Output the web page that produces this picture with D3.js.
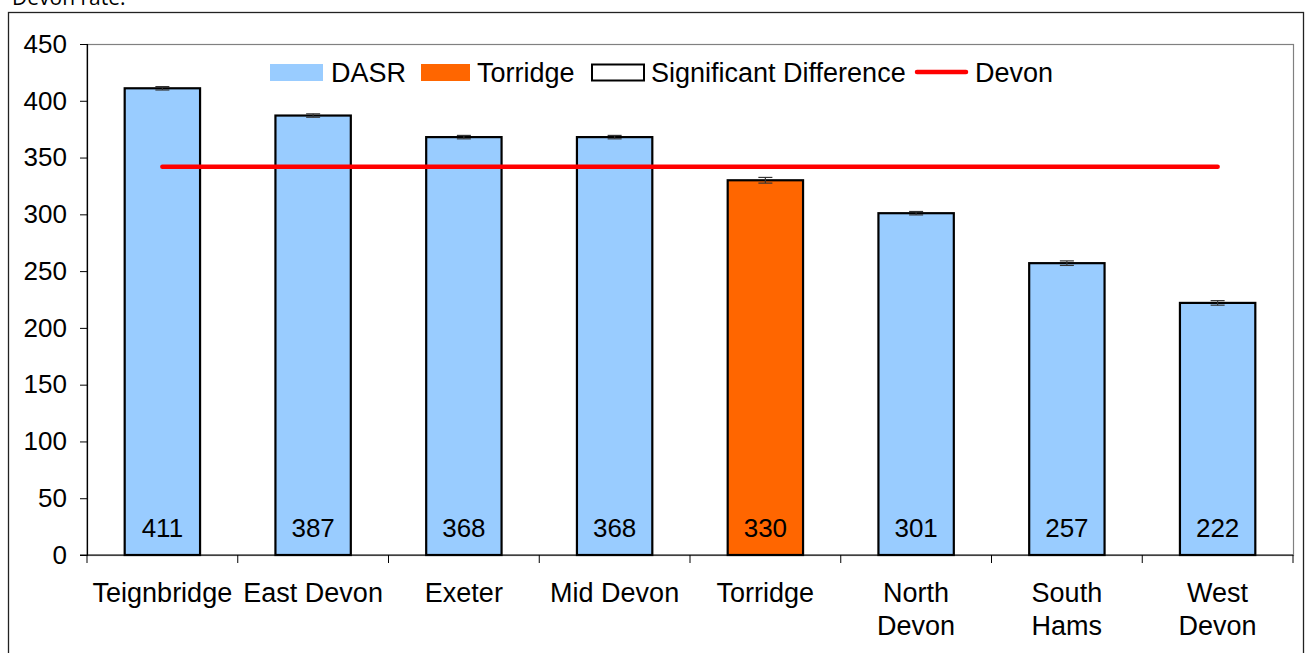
<!DOCTYPE html>
<html>
<head>
<meta charset="utf-8">
<script src="https://cdn.jsdelivr.net/npm/d3@7"></script>
<style>
  html, body { margin: 0; padding: 0; background: #fff; }
  svg { display: block; font-family: "Liberation Sans", Arial, sans-serif; }
</style>
</head>
<body>
<svg id="chart" width="1310" height="653"></svg>
<script>
// District directly age-standardised rates (DASR)
const districts = ["Teignbridge", "East Devon", "Exeter", "Mid Devon", "Torridge", "North Devon", "South Hams", "West Devon"];
const labelLines = [["Teignbridge"], ["East Devon"], ["Exeter"], ["Mid Devon"], ["Torridge"], ["North", "Devon"], ["South", "Hams"], ["West", "Devon"]];
const dasr = [411, 387, 368, 368, 330, 301, 257, 222];
const errLow = [409.5, 385.5, 366.5, 366.5, 327.5, 299.5, 255, 220];
const errHigh = [412.5, 388.5, 369.5, 369.5, 332.5, 302.5, 259, 224];
const devonRate = 342;
const highlight = "Torridge";
const yTicks = [0, 50, 100, 150, 200, 250, 300, 350, 400, 450];
const legendItems = ["DASR", "Torridge", "Significant Difference", "Devon"];

const svg = d3.select("#chart");
const plot = { left: 87, right: 1293, top: 44, bottom: 555 };

const x = d3.scaleBand().domain(districts).range([plot.left, plot.right]).paddingInner(0).paddingOuter(0);
const y = d3.scaleLinear().domain([0, 450]).range([plot.bottom, plot.top]);
const barW = x.bandwidth() * 0.5;

// Outer frame and caption
svg.append("rect").attr("x", 8.5).attr("y", 12.5).attr("width", 1295).attr("height", 700)
  .attr("fill", "none").attr("stroke", "#222").attr("stroke-width", 1.3);
svg.append("text").attr("x", 12).attr("y", 5).attr("font-family", "'Open Sans', sans-serif")
  .attr("font-size", 21).attr("fill", "#000").text("Devon rate.");

// Plot area border
svg.append("rect").attr("x", plot.left).attr("y", plot.top + 0.5)
  .attr("width", plot.right - plot.left + 0.5).attr("height", plot.bottom - plot.top)
  .attr("fill", "none").attr("stroke", "#808080").attr("stroke-width", 1.2);

// Bars
svg.append("g").selectAll("rect").data(districts).join("rect")
  .attr("x", d => x(d) + (x.bandwidth() - barW) / 2)
  .attr("y", (d, i) => y(dasr[i]))
  .attr("width", barW)
  .attr("height", (d, i) => y(0) - y(dasr[i]))
  .attr("fill", d => d === highlight ? "#ff6600" : "#99ccff")
  .attr("stroke", "#000").attr("stroke-width", 2.2);

// Confidence interval error bars
const eb = svg.append("g").attr("stroke", "#333").attr("stroke-width", 1.2);
districts.forEach((d, i) => {
  const cx = x(d) + x.bandwidth() / 2;
  eb.append("line").attr("x1", cx).attr("x2", cx).attr("y1", y(errLow[i])).attr("y2", y(errHigh[i]));
  eb.append("line").attr("x1", cx - 7).attr("x2", cx + 7).attr("y1", y(errLow[i])).attr("y2", y(errLow[i]));
  eb.append("line").attr("x1", cx - 7).attr("x2", cx + 7).attr("y1", y(errHigh[i])).attr("y2", y(errHigh[i]));
});

// Devon average line
svg.append("line")
  .attr("x1", x(districts[0]) + x.bandwidth() / 2)
  .attr("x2", x(districts[districts.length - 1]) + x.bandwidth() / 2)
  .attr("y1", y(devonRate)).attr("y2", y(devonRate))
  .attr("stroke", "#ff0000").attr("stroke-width", 4.5).attr("stroke-linecap", "round");

// Value labels near the base of each bar
svg.append("g").selectAll("text").data(districts).join("text")
  .attr("x", d => x(d) + x.bandwidth() / 2)
  .attr("y", y(0) - 18)
  .attr("text-anchor", "middle")
  .attr("font-size", 26).attr("fill", "#000")
  .text((d, i) => dasr[i]);

// Y axis
const yAxis = svg.append("g").attr("transform", `translate(${plot.left},0)`)
  .call(d3.axisLeft(y).tickValues(yTicks).tickSize(7).tickPadding(13));
yAxis.select(".domain").attr("stroke", "#000").attr("stroke-width", 1.2);
yAxis.selectAll(".tick line").attr("stroke", "#000");
yAxis.selectAll(".tick text").attr("font-size", 26).attr("fill", "#000")
  .attr("font-family", "'Liberation Sans', Arial, sans-serif");

// X axis with ticks on band boundaries
const xAxis = svg.append("g").attr("transform", `translate(0,${plot.bottom})`);
xAxis.append("line").attr("x1", plot.left - 7).attr("x2", plot.right).attr("y1", 0).attr("y2", 0)
  .attr("stroke", "#000").attr("stroke-width", 1.2);
const bounds = districts.map(d => x(d)).concat([plot.right]);
xAxis.selectAll("line.tk").data(bounds).join("line").attr("class", "tk")
  .attr("x1", d => d).attr("x2", d => d).attr("y1", 0).attr("y2", 8)
  .attr("stroke", "#000").attr("stroke-width", 1);
xAxis.selectAll("text").data(districts).join("text")
  .attr("x", d => x(d) + x.bandwidth() / 2)
  .attr("y", 47)
  .attr("text-anchor", "middle").attr("font-size", 27).attr("fill", "#000")
  .each(function(d, i) {
    d3.select(this).selectAll("tspan").data(labelLines[i]).join("tspan")
      .attr("x", x(d) + x.bandwidth() / 2)
      .attr("dy", (t, j) => j === 0 ? 0 : 33)
      .text(t => t);
  });

// Legend
const lg = svg.append("g").attr("font-size", 27).attr("fill", "#000");
lg.append("rect").attr("x", 270).attr("y", 64).attr("width", 53).attr("height", 17).attr("fill", "#99ccff");
lg.append("text").attr("x", 331).attr("y", 82).text(legendItems[0]);
lg.append("rect").attr("x", 421).attr("y", 64).attr("width", 49).attr("height", 17).attr("fill", "#ff6600");
lg.append("text").attr("x", 477).attr("y", 82).text(legendItems[1]);
lg.append("rect").attr("x", 592).attr("y", 64.5).attr("width", 52).attr("height", 16)
  .attr("fill", "#fff").attr("stroke", "#000").attr("stroke-width", 2);
lg.append("text").attr("x", 651).attr("y", 82).text(legendItems[2]);
lg.append("line").attr("x1", 917).attr("x2", 966).attr("y1", 72).attr("y2", 72)
  .attr("stroke", "#ff0000").attr("stroke-width", 4.5).attr("stroke-linecap", "round");
lg.append("text").attr("x", 975).attr("y", 82).text(legendItems[3]);
</script>
</body>
</html>
